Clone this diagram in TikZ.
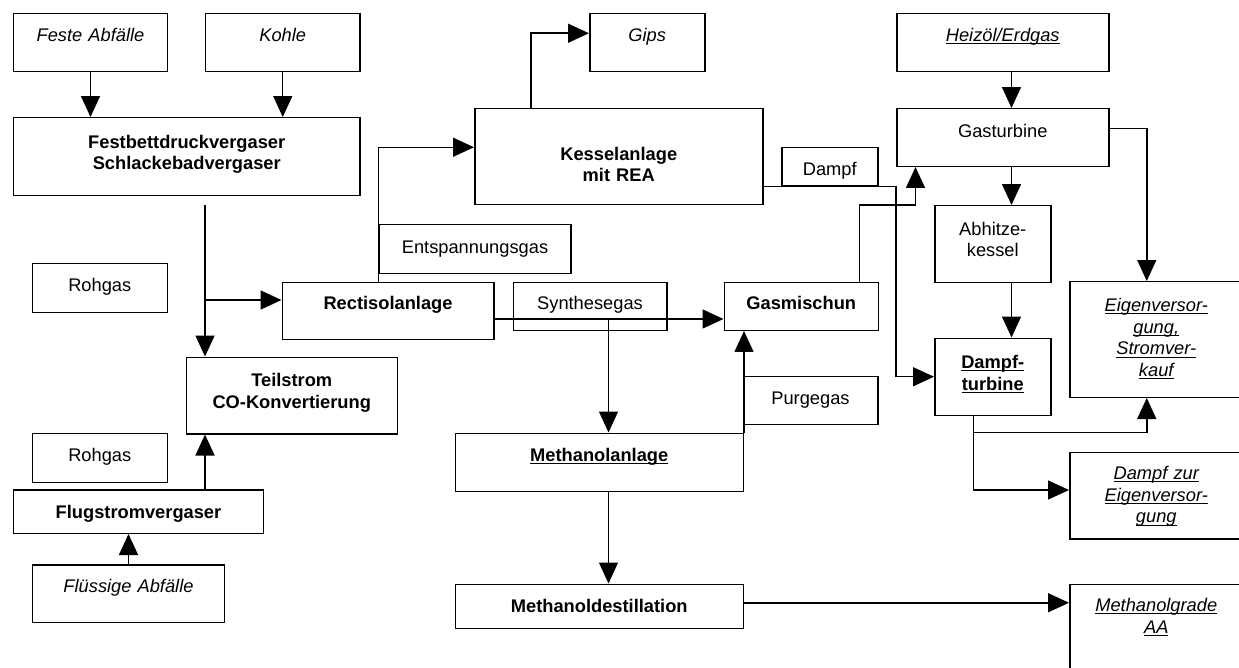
\documentclass[tikz,border=0pt]{standalone}
\usepackage{fontspec}
\setmainfont{Liberation Sans}
\usetikzlibrary{arrows.meta, positioning, calc}
\newsavebox\ulbox
\newcommand{\unterstr}[1]{\leavevmode\sbox\ulbox{#1}\rlap{\rule[-1.5pt]{\wd\ulbox}{0.6pt}}\usebox\ulbox}
\tikzstyle{box} = [
    rectangle,
    draw=black,
    line width=0.85pt,
    inner sep=0pt,
    align=center,
    anchor=north west,
    font=\fontsize{10.4pt}{12.3pt}\selectfont
]
\tikzset{boxdim/.style n args={3}{text width=#1cm, text height=#2cm, text depth=#3cm}}
\tikzstyle{arrow} = [
    line width=0.85pt,
    -{Triangle[length=0.42cm, width=0.38cm]}
]

\begin{document}
\begin{tikzpicture}
    \useasboundingbox (0,0) rectangle (24.78,-13.34);
    \clip (0,0) rectangle (24.78,-13.34);

    % Vergasung
    \node[box, boxdim={3.07}{0.56}{0.60}] (feste) at (0.26,-0.26) {\itshape Feste Abfälle};
    \node[box, boxdim={3.08}{0.56}{0.60}] (kohle) at (4.10,-0.26) {\itshape Kohle};
    \node[box, boxdim={6.92}{0.61}{0.95}] (festbett) at (0.26,-2.34) {\bfseries Festbettdruckvergaser\\Schlackebadvergaser};
    \node[box, boxdim={2.70}{0.57}{0.41}] (rohgasa) at (0.63,-5.25) {Rohgas};
    \node[box, boxdim={4.22}{0.59}{0.94}] (teilstrom) at (3.71,-7.13) {\bfseries Teilstrom\\CO-Konvertierung};
    \node[box, boxdim={2.70}{0.57}{0.41}] (rohgasb) at (0.63,-8.65) {Rohgas};
    \node[box, boxdim={5.01}{0.57}{0.30}] (flugstrom) at (0.25,-9.78) {\bfseries Flugstromvergaser};
    \node[box, boxdim={3.85}{0.55}{0.60}] (fluessig) at (0.63,-11.28) {\itshape Flüssige Abfälle};

    % Gasreinigung, Methanol
    \node[box, boxdim={4.23}{0.55}{0.59}] (rectisol) at (5.63,-5.63) {\bfseries Rectisolanlage};
    \node[box, boxdim={3.83}{0.57}{0.41}] (entsp) at (7.57,-4.48) {Entspannungsgas};
    \node[box, boxdim={3.07}{0.55}{0.41}] (synthese) at (10.25,-5.63) {Synthesegas};
    \node[box, boxdim={3.08}{0.55}{0.41}] (gasmisch) at (14.47,-5.63) {\bfseries Gasmischun};
    \node[box, boxdim={2.69}{0.57}{0.39}] (purge) at (14.85,-7.51) {Purgegas};
    \node[box, boxdim={5.76}{0.57}{0.59}] (methanol) at (9.09,-8.65) {\bfseries\unterstr{Methanolanlage}};
    \node[box, boxdim={5.76}{0.57}{0.31}] (mdest) at (9.09,-11.67) {\bfseries Methanoldestillation};
    \node[box, boxdim={3.46}{0.55}{1.45}] (methgrade) at (21.38,-11.67) {\itshape\unterstr{Methanolgrade}\\\unterstr{AA}};

    % Kessel, Turbinen
    \node[box, boxdim={5.76}{1.03}{0.89}] (kessel) at (9.48,-2.16) {\bfseries Kesselanlage\\mit REA};
    \node[box, boxdim={2.30}{0.56}{0.60}] (gips) at (11.78,-0.26) {\itshape Gips};
    \node[box, boxdim={1.92}{0.55}{0.21}] (dampf) at (15.62,-2.94) {Dampf};
    \node[box, boxdim={4.24}{0.56}{0.60}] (heizoel) at (17.92,-0.26) {\itshape\unterstr{Heizöl/Erdgas}};
    \node[box, boxdim={4.24}{0.57}{0.58}] (gasturbine) at (17.92,-2.16) {Gasturbine};
    \node[box, boxdim={2.32}{0.59}{0.95}] (abhitze) at (18.68,-4.10) {Abhitze-\\kessel};
    \node[box, boxdim={2.32}{0.61}{0.93}] (dturbine) at (18.68,-6.75) {\bfseries\unterstr{Dampf-}\\\unterstr{turbine}};
    \node[box, boxdim={3.46}{0.60}{1.71}] (eigen) at (21.38,-5.62) {\itshape\unterstr{Eigenversor-}\\\unterstr{gung,}\\\unterstr{Stromver-}\\\unterstr{kauf}};
    \node[box, boxdim={3.46}{0.55}{1.18}] (dampfzur) at (21.38,-9.03) {\itshape\unterstr{Dampf zur}\\\unterstr{Eigenversor-}\\\unterstr{gung}};

    % Hilfspunkte
    \coordinate (rohgasline) at (4.10,-4.10);
    \coordinate (branch) at (4.10,-6.00);
    \coordinate (synjunc) at (12.17,-6.38);
    \coordinate (mdestout) at ([yshift=0.07cm]mdest.east);
    \coordinate (gtin) at ([xshift=0.39cm]gasturbine.south west);
    \coordinate (column) at (20.23,0);
    \coordinate (dsplit) at (19.47,-8.65);

    % Arrows
    \draw[arrow] (feste.south) -- (feste.south |- festbett.north);
    \draw[arrow] (kohle.south) -- (kohle.south |- festbett.north);
    \draw[arrow] (rohgasline) -- (rohgasline |- teilstrom.north);
    \draw[arrow] (branch) -- (branch -| rectisol.west);
    \draw[arrow] (flugstrom.north -| rohgasline) -- (rohgasline |- teilstrom.south);
    \draw[arrow] (fluessig.north) -- (fluessig.north |- flugstrom.south);
    \draw[arrow] (rectisol.north -| entsp.west) |- ([yshift=0.19cm]kessel.west);
    \draw[arrow] ([xshift=1.14cm]kessel.north west) |- ([yshift=0.19cm]gips.west);
    \draw[arrow] (synjunc -| rectisol.east) -- (synjunc -| gasmisch.west);
    \draw[arrow] (synjunc) -- (synjunc |- methanol.north);
    \draw[arrow] (methanol.south -| synjunc) -- (synjunc |- mdest.north);
    \draw[arrow] (methanol.north east) -- (methanol.north east |- gasmisch.south);
    \draw[arrow] (mdestout) -- (mdestout -| methgrade.west);
    \draw[arrow] ([yshift=-0.59cm]kessel.east) -| (gasturbine.west |- dturbine.west) -- (dturbine.west);
    \draw[arrow] ([xshift=-0.39cm]gasmisch.north east) |- (gtin |- abhitze.north) -- (gtin);
    \draw[arrow] (heizoel.south -| column) -- (gasturbine.north -| column);
    \draw[arrow] (gasturbine.south -| column) -- (abhitze.north -| column);
    \draw[arrow] (abhitze.south -| column) -- (dturbine.north -| column);
    \draw[arrow] ([yshift=0.18cm]gasturbine.east) -| ([xshift=-0.19cm]eigen.north);
    \draw[arrow] (dturbine.south -| dsplit) -- (dsplit) -| ([xshift=-0.19cm]eigen.south);
    \draw[arrow] (dsplit) |- ([yshift=0.11cm]dampfzur.west);
\end{tikzpicture}
\end{document}
